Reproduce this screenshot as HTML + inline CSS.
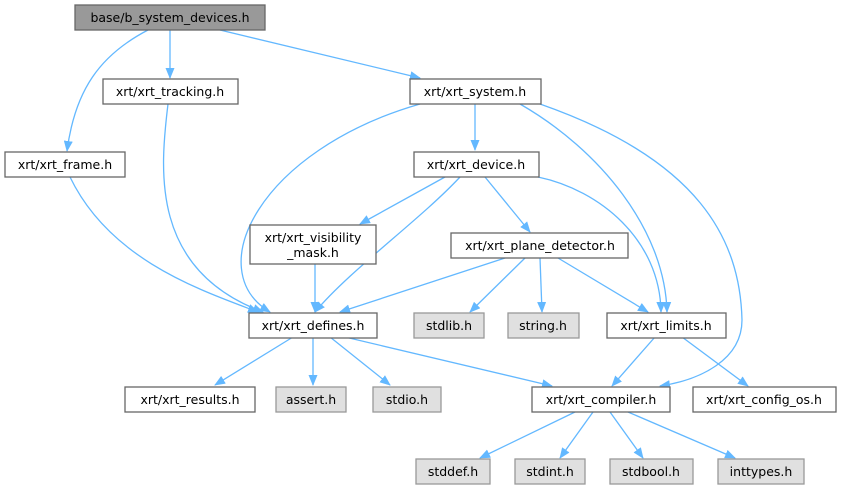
<!DOCTYPE html>
<html><head><meta charset="utf-8"><style>
html,body{margin:0;padding:0;background:#fff;}
svg{display:block;}
text{font-family:"DejaVu Sans","Liberation Sans",sans-serif;font-size:12.5px;fill:#000;text-anchor:middle;}
.n{fill:#fff;stroke:#666;stroke-width:1.3;}
.g{fill:#e0e0e0;stroke:#999;stroke-width:1.3;}
.r{fill:#999;stroke:#666;stroke-width:1.3;}
.e{fill:none;stroke:#63b8ff;stroke-width:1.3;}
</style></head><body>
<svg width="842" height="491" viewBox="0 0 842 491" xmlns="http://www.w3.org/2000/svg">
<defs><marker id="a" markerWidth="11" markerHeight="9" refX="10" refY="4.5" orient="auto" markerUnits="userSpaceOnUse"><path d="M0,0 L11,4.5 L0,9 z" fill="#63b8ff"/></marker></defs>
<g class="e" marker-end="url(#a)">
<path d="M148,30 C100,55 75,90 67,151"/>
<path d="M170,30 L170,78"/>
<path d="M220,30 L420,78"/>
<path d="M168,104 C160,170 150,270 263,312"/>
<path d="M70,177 C110,260 200,290 258,312"/>
<path d="M420,104 C260,150 200,270 270,312"/>
<path d="M475,104 L475,150"/>
<path d="M520,104 C600,150 665,230 667,312"/>
<path d="M540,104 C700,160 740,240 742,320 C742,360 700,380 660,386"/>
<path d="M445,177 L360,224"/>
<path d="M460,177 C420,220 350,270 315,312"/>
<path d="M485,177 L530,232"/>
<path d="M538,177 C600,190 660,240 661,312"/>
<path d="M315,264 L315,312"/>
<path d="M505,258 L340,312"/>
<path d="M525,258 L470,312"/>
<path d="M540,258 L542,312"/>
<path d="M558,258 L648,312"/>
<path d="M293,337 L215,385"/>
<path d="M313,337 L313,385"/>
<path d="M330,337 L390,385"/>
<path d="M345,337 L552,386"/>
<path d="M655,337 L612,386"/>
<path d="M682,337 L748,386"/>
<path d="M575,412 L480,458"/>
<path d="M593,412 L560,458"/>
<path d="M610,412 L643,458"/>
<path d="M628,412 L735,458"/>
</g>
<rect class="r" x="75" y="5" width="190" height="25"/><text x="170" y="22">base/b_system_devices.h</text>
<rect class="n" x="103" y="79" width="135" height="25"/><text x="170" y="96">xrt/xrt_tracking.h</text>
<rect class="n" x="410" y="79" width="131" height="25"/><text x="475" y="96">xrt/xrt_system.h</text>
<rect class="n" x="5" y="152" width="120" height="25"/><text x="65" y="169">xrt/xrt_frame.h</text>
<rect class="n" x="414" y="152" width="125" height="25"/><text x="476" y="169">xrt/xrt_device.h</text>
<rect class="n" x="250" y="225" width="126" height="39"/><text x="313" y="242">xrt/xrt_visibility</text><text x="313" y="257">_mask.h</text>
<rect class="n" x="451" y="233" width="177" height="25"/><text x="540" y="250">xrt/xrt_plane_detector.h</text>
<rect class="n" x="249" y="313" width="128" height="25"/><text x="313" y="330">xrt/xrt_defines.h</text>
<rect class="g" x="414" y="313" width="70" height="25"/><text x="449" y="330">stdlib.h</text>
<rect class="g" x="508" y="313" width="71" height="25"/><text x="543" y="330">string.h</text>
<rect class="n" x="607" y="313" width="119" height="25"/><text x="666" y="330">xrt/xrt_limits.h</text>
<rect class="n" x="125" y="387" width="130" height="25"/><text x="190" y="404">xrt/xrt_results.h</text>
<rect class="g" x="276" y="387" width="70" height="25"/><text x="311" y="404">assert.h</text>
<rect class="g" x="373" y="387" width="68" height="25"/><text x="407" y="404">stdio.h</text>
<rect class="n" x="532" y="387" width="138" height="25"/><text x="601" y="404">xrt/xrt_compiler.h</text>
<rect class="n" x="693" y="387" width="143" height="25"/><text x="764" y="404">xrt/xrt_config_os.h</text>
<rect class="g" x="416" y="459" width="74" height="25"/><text x="453" y="476">stddef.h</text>
<rect class="g" x="515" y="459" width="70" height="25"/><text x="550" y="476">stdint.h</text>
<rect class="g" x="610" y="459" width="83" height="25"/><text x="651" y="476">stdbool.h</text>
<rect class="g" x="718" y="459" width="86" height="25"/><text x="761" y="476">inttypes.h</text>
</svg>
</body></html>
